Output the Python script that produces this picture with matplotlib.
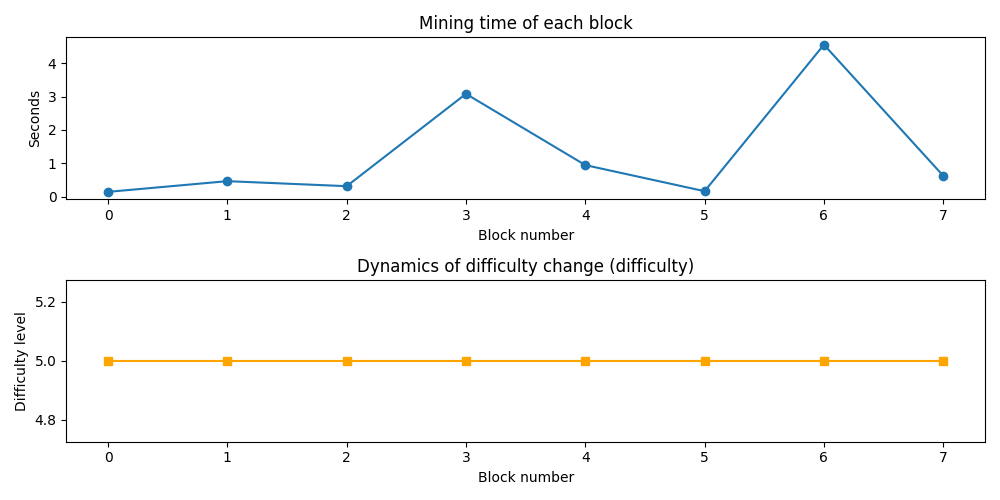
import matplotlib
matplotlib.use('Agg')
import matplotlib.pyplot as plt

blocks = [0, 1, 2, 3, 4, 5, 6, 7]
mining_times = [0.15, 0.47, 0.32, 3.08, 0.95, 0.17, 4.55, 0.63]
difficulty = [5, 5, 5, 5, 5, 5, 5, 5]

fig, (ax1, ax2) = plt.subplots(2, 1, figsize=(10, 5), dpi=100)

ax1.plot(blocks, mining_times, marker='o')
ax1.set_title('Mining time of each block')
ax1.set_xlabel('Block number')
ax1.set_ylabel('Seconds')

ax2.plot(blocks, difficulty, marker='s', color='orange')
ax2.set_title('Dynamics of difficulty change (difficulty)')
ax2.set_xlabel('Block number')
ax2.set_ylabel('Difficulty level')

plt.tight_layout()
plt.savefig('out.png')
